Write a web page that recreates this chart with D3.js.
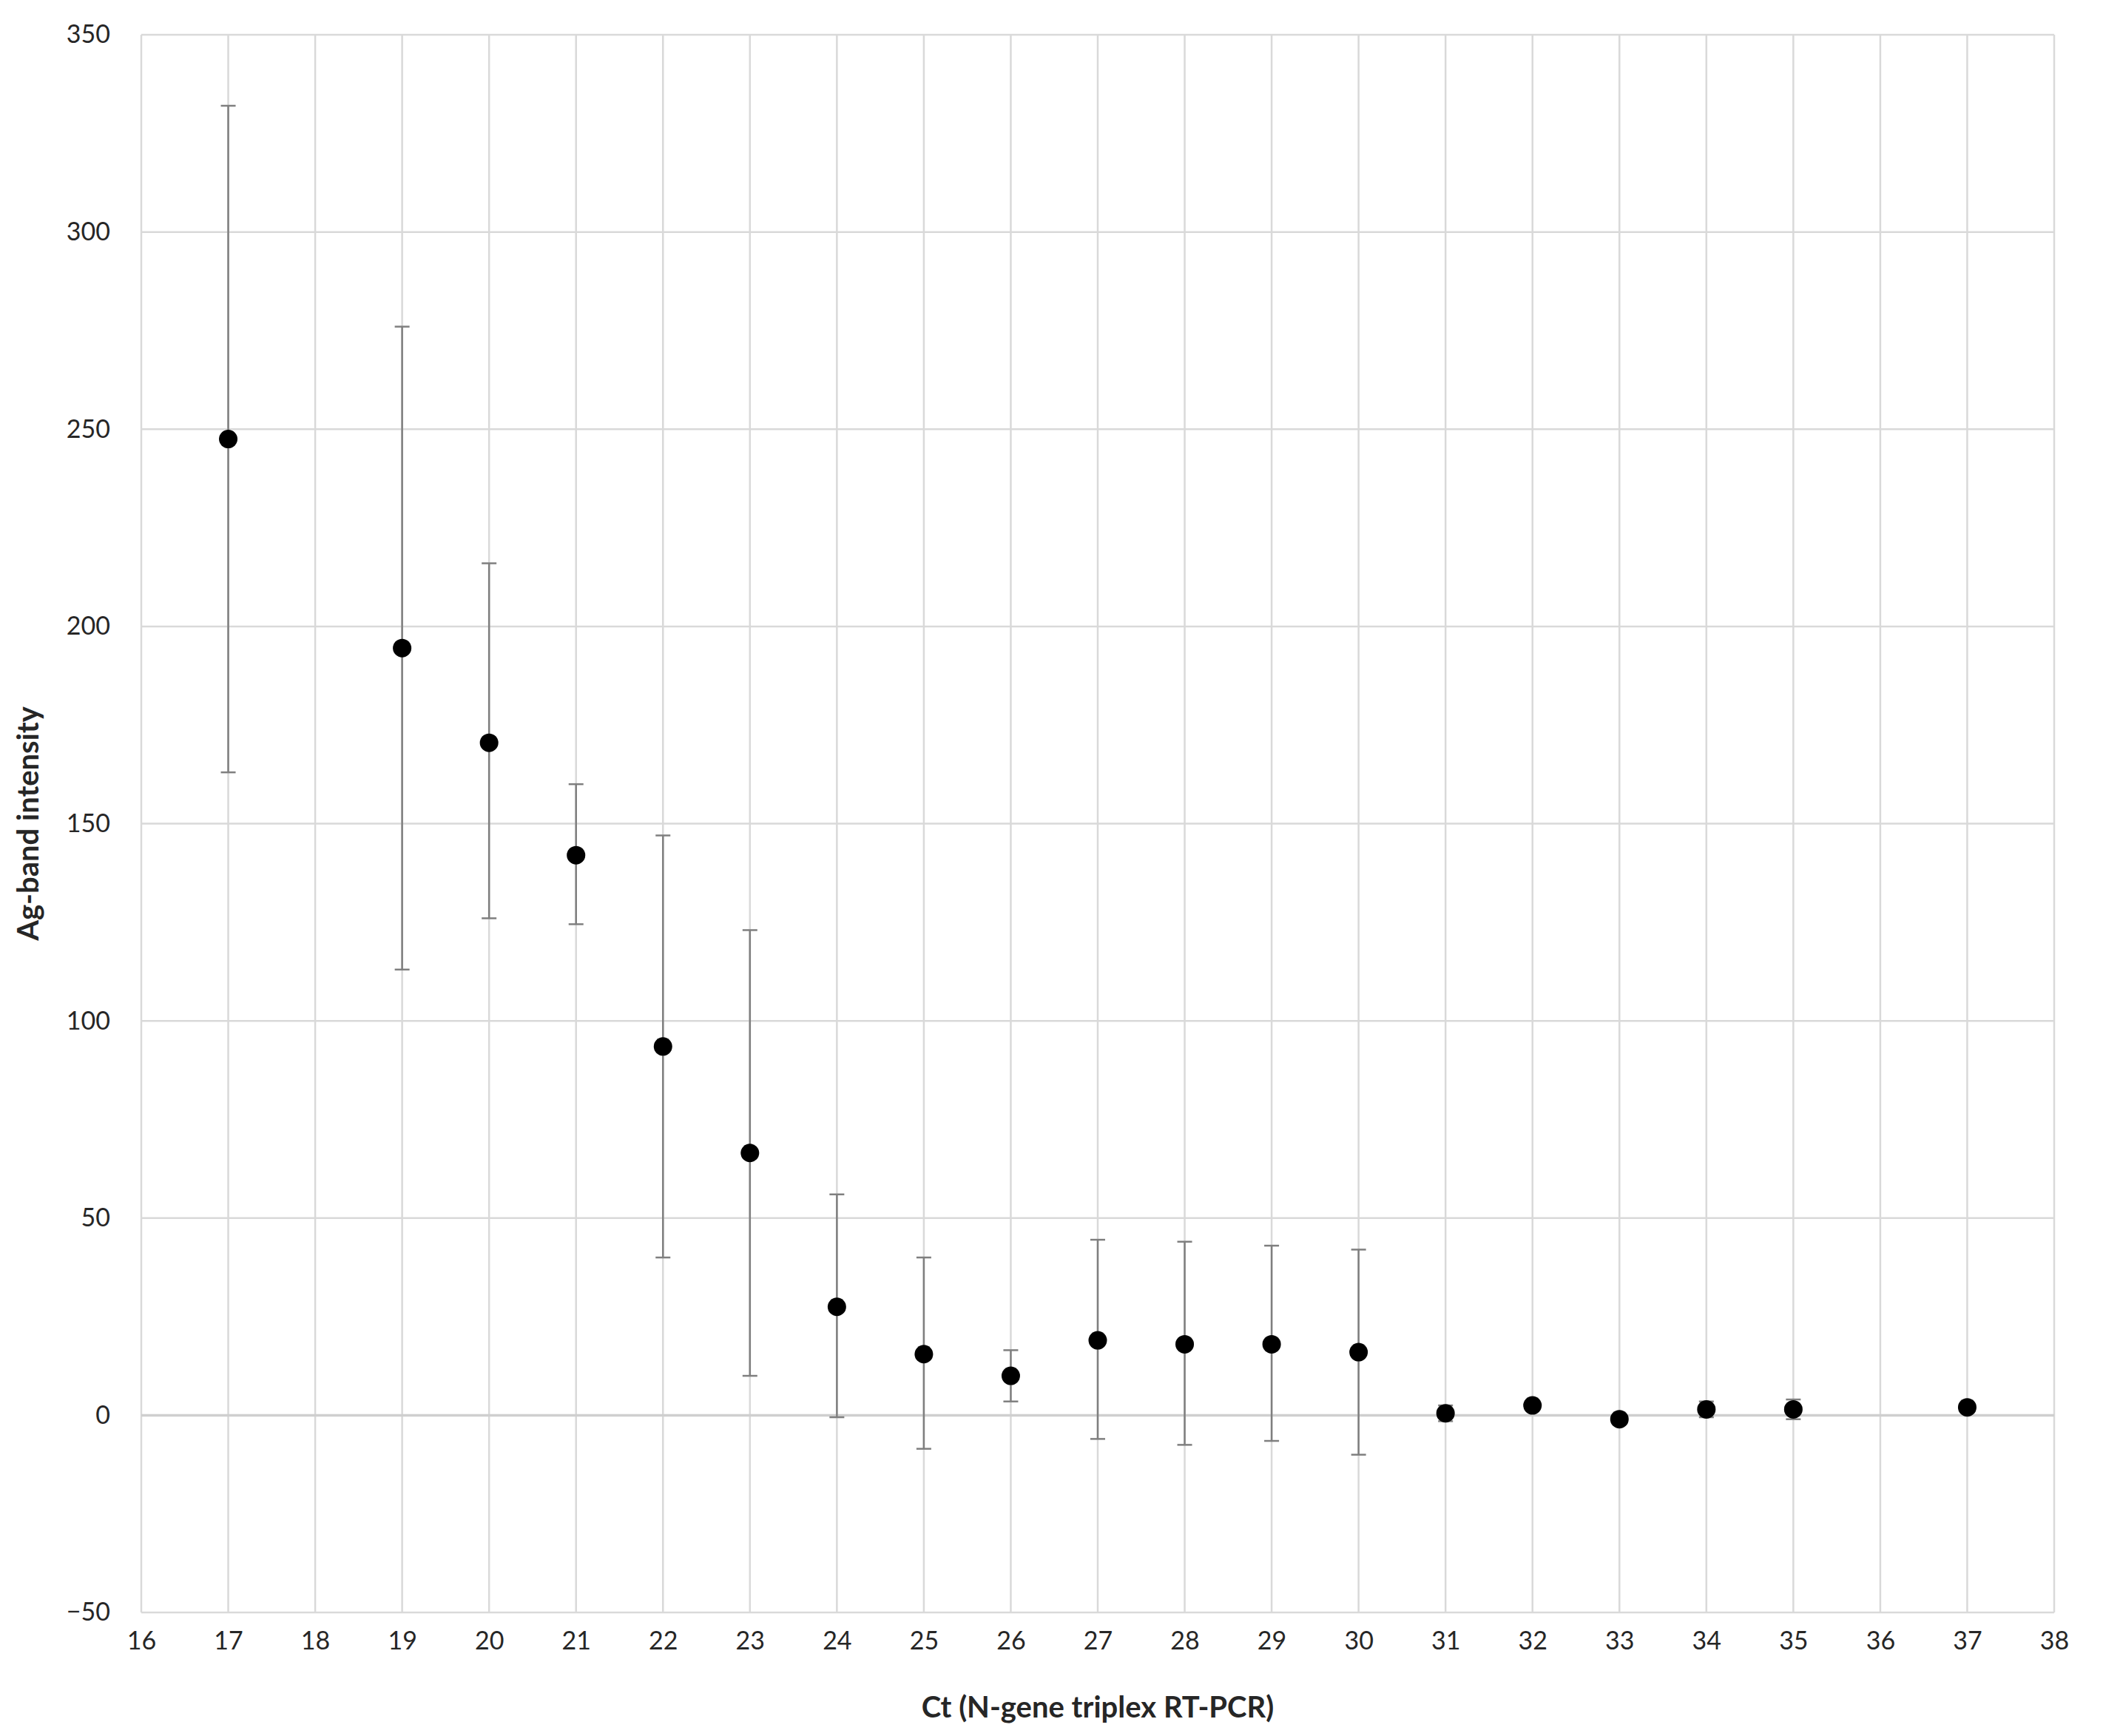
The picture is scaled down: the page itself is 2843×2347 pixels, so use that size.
<!DOCTYPE html>
<html><head><meta charset="utf-8">
<script src="https://cdn.jsdelivr.net/npm/d3@7"></script>
<style>body{margin:0;background:#fff}text{font-family:Lato,"Liberation Sans",sans-serif}</style>
</head><body>
<svg id="c" width="2843" height="2347"></svg>
<script>
const ct = [17,19,20,21,22,23,24,25,26,27,28,29,30,31,32,33,34,35,37];
const intensity = [247.5,194.5,170.5,142,93.5,66.5,27.5,15.5,10,19,18,18,16,0.5,2.5,-1,1.5,1.5,2];
const errHigh = [332,276,216,160,147,123,56,40,16.5,44.5,44,43,42,2.5,3.5,0,3.5,4,2];
const errLow = [163,113,126,124.5,40,10,-0.5,-8.5,3.5,-6,-7.5,-6.5,-10,-1.5,1.5,-2,-0.5,-1,2];
const xTicks = d3.range(16,39,1);
const yTicks = d3.range(-50,351,50);

const svg = d3.select("#c");
const L=191,R=2777,T=47,B=2180;
const x = d3.scaleLinear().domain([16,38]).range([L,R]);
const y = d3.scaleLinear().domain([-50,350]).range([B,T]);
const g = svg.append("g");
g.selectAll(".gx").data(xTicks).join("line").attr("x1",d=>x(d)).attr("x2",d=>x(d)).attr("y1",T).attr("y2",B).attr("stroke","#d9d9d9").attr("stroke-width",2.5);
g.selectAll(".gy").data(yTicks).join("line").attr("y1",d=>y(d)).attr("y2",d=>y(d)).attr("x1",L).attr("x2",R).attr("stroke",d=>d===0?"#cfcfcf":"#d9d9d9").attr("stroke-width",d=>d===0?3.5:2.5);

const xa = svg.append("g").attr("transform",`translate(0,${B})`).call(d3.axisBottom(x).tickValues(xTicks).tickSize(0).tickPadding(26));
xa.select(".domain").remove();
xa.selectAll("text").attr("font-size",34).attr("fill","#262626").attr("dy","0.71em");
const ya = svg.append("g").attr("transform",`translate(${L},0)`).call(d3.axisLeft(y).tickValues(yTicks).tickSize(0).tickPadding(42));
ya.select(".domain").remove();
ya.selectAll("text").attr("font-size",34).attr("fill","#262626");

const data = ct.map((c,i)=>({c,v:intensity[i],hi:errHigh[i],lo:errLow[i]}));
const eb = svg.append("g").attr("stroke","#7f7f7f").attr("stroke-width",2.5);
data.filter(d=>d.hi!==d.lo).forEach(d=>{
  eb.append("line").attr("x1",x(d.c)).attr("x2",x(d.c)).attr("y1",y(d.hi)).attr("y2",y(d.lo));
  [d.hi,d.lo].forEach(v=>eb.append("line").attr("x1",x(d.c)-10).attr("x2",x(d.c)+10).attr("y1",y(v)).attr("y2",y(v)));
});
svg.append("g").selectAll("circle").data(data).join("circle").attr("cx",d=>x(d.c)).attr("cy",d=>y(d.v)).attr("r",12.5).attr("fill","#000");

svg.append("text").attr("x",(L+R)/2).attr("y",2322).attr("text-anchor","middle").attr("font-size",40).attr("font-weight","bold").attr("fill","#262626").text("Ct (N-gene triplex RT-PCR)");
svg.append("text").attr("transform",`translate(52,${(T+B)/2}) rotate(-90)`).attr("text-anchor","middle").attr("font-size",40).attr("font-weight","bold").attr("fill","#262626").text("Ag-band intensity");
</script></body></html>
